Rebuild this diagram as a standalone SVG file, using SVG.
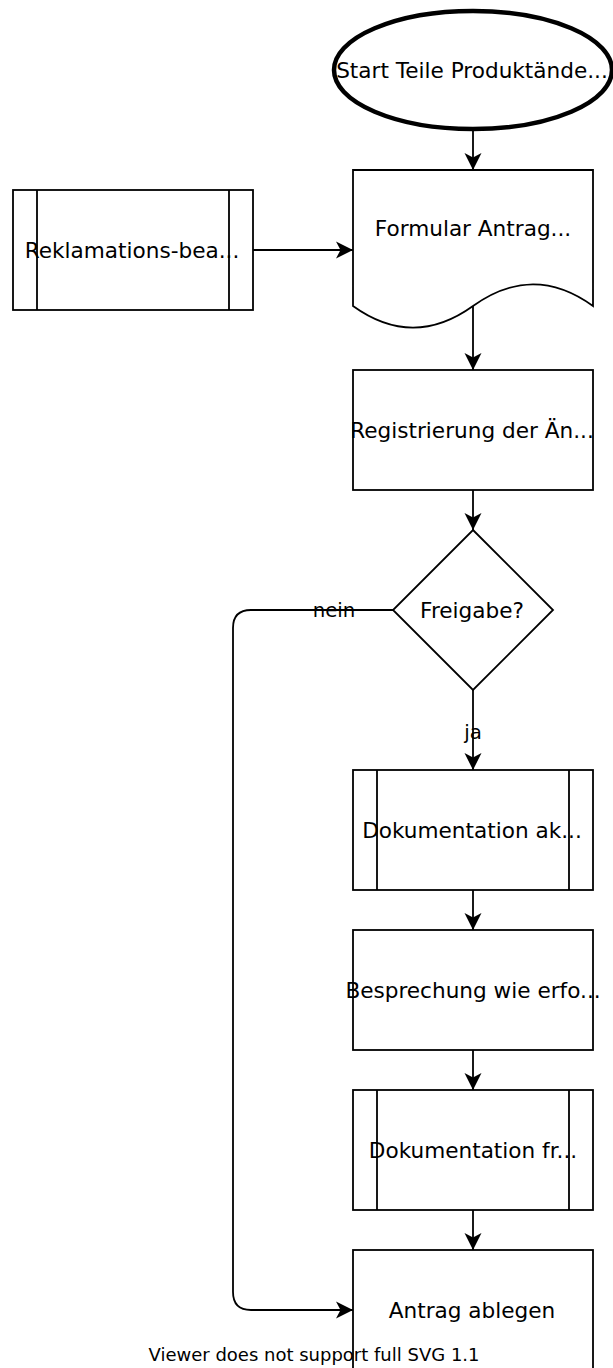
<svg xmlns="http://www.w3.org/2000/svg" width="613" height="1368" viewBox="0 0 613 1368">
<style>
.n{fill:#fff;stroke:#000;stroke-width:1.8}
.l{fill:none;stroke:#000;stroke-width:1.8}
.t{font-family:"DejaVu Sans","Liberation Sans",sans-serif;font-size:21.6px;fill:#000;text-anchor:middle}
.e{font-family:"DejaVu Sans","Liberation Sans",sans-serif;font-size:19.8px;fill:#000;text-anchor:middle}
.c{fill:none;stroke:#000;stroke-width:1.8}
</style>
<defs>
<marker id="a" viewBox="0 0 18 18" refX="17" refY="9" markerWidth="18" markerHeight="18" markerUnits="userSpaceOnUse" orient="auto">
<path d="M17,9 L0,0.5 L4.5,9 L0,17.5 Z" fill="#000"/>
</marker>
</defs>
<g id="connectors">
<path class="c" d="M473,130 V170" marker-end="url(#a)"/>
<path class="c" d="M253,250 H353" marker-end="url(#a)"/>
<path class="c" d="M473,306 V370" marker-end="url(#a)"/>
<path class="c" d="M473,490 V530" marker-end="url(#a)"/>
<path class="c" d="M393,610 H251 Q233,610 233,628 V1292 Q233,1310 251,1310 H353" marker-end="url(#a)"/>
<path class="c" d="M473,690 V770" marker-end="url(#a)"/>
<path class="c" d="M473,890 V930" marker-end="url(#a)"/>
<path class="c" d="M473,1050 V1090" marker-end="url(#a)"/>
<path class="c" d="M473,1210 V1250" marker-end="url(#a)"/>
<text class="e" x="334" y="617">nein</text>
<text class="e" x="473" y="739">ja</text>
</g>
<g id="start">
<ellipse cx="473" cy="70" rx="139" ry="59" fill="#fff" stroke="#000" stroke-width="4.5"/>
<text class="t" x="472" y="78">Start Teile Produktände...</text>
</g>
<g id="formular">
<path class="n" d="M353,170 H593 V306 Q533,262.8 473,306 Q413,349.2 353,306 Z"/>
<text class="t" x="473" y="236">Formular Antrag...</text>
</g>
<g id="reklamation">
<rect class="n" x="13" y="190" width="240" height="120"/>
<path class="l" d="M37,190 V310 M229,190 V310"/>
<text class="t" x="132" y="258">Reklamations-bea...</text>
</g>
<g id="registrierung">
<rect class="n" x="353" y="370" width="240" height="120"/>
<text class="t" x="472" y="438">Registrierung der Än...</text>
</g>
<g id="freigabe">
<path class="n" d="M473,530 L553,610 L473,690 L393,610 Z"/>
<text class="t" x="472" y="618">Freigabe?</text>
</g>
<g id="dokumentation-ak">
<rect class="n" x="353" y="770" width="240" height="120"/>
<path class="l" d="M377,770 V890 M569,770 V890"/>
<text class="t" x="472" y="838">Dokumentation ak...</text>
</g>
<g id="besprechung">
<rect class="n" x="353" y="930" width="240" height="120"/>
<text class="t" x="473" y="998">Besprechung wie erfo...</text>
</g>
<g id="dokumentation-fr">
<rect class="n" x="353" y="1090" width="240" height="120"/>
<path class="l" d="M377,1090 V1210 M569,1090 V1210"/>
<text class="t" x="473" y="1158">Dokumentation fr...</text>
</g>
<g id="antrag-ablegen">
<rect class="n" x="353" y="1250" width="240" height="120"/>
<text class="t" x="472" y="1318">Antrag ablegen</text>
</g>
<text x="314" y="1361" style="font-family:'DejaVu Sans','Liberation Sans',sans-serif;font-size:18px;fill:#000;text-anchor:middle">Viewer does not support full SVG 1.1</text>
</svg>
